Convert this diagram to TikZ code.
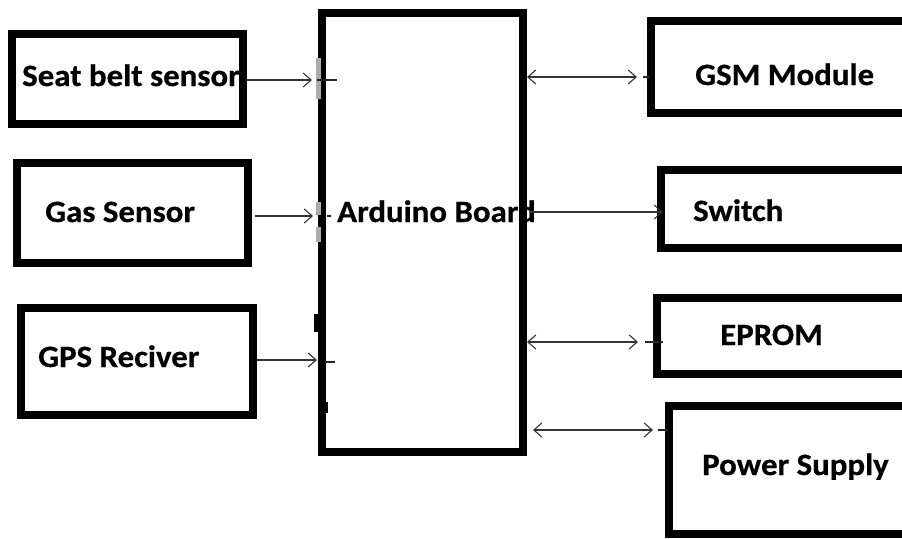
\documentclass[tikz,border=0pt]{standalone}
\usepackage{fontspec}
\setmainfont{Carlito}[FakeStretch=1.06,BoldFeatures={FakeStretch=1.06,FakeBold=0.6}]
\usetikzlibrary{arrows.meta}
\begin{document}
\begin{tikzpicture}[x=1pt,y=-1pt,
  blk/.style={draw=black,line width=8pt,inner sep=0pt,outer sep=4pt},
  lbl/.style={anchor=base west,inner sep=0pt,font=\fontsize{31}{31}\selectfont\bfseries},
  arr/.style={draw=black!80,line width=1.1pt,-{Straight Barb[length=8pt,width=14pt]}},
  darr/.style={draw=black!80,line width=1.1pt,{Straight Barb[length=8pt,width=14pt]}-{Straight Barb[length=8pt,width=14pt]}},
  tk/.style={draw=black!85,line width=1.1pt}]
\useasboundingbox (0,0) rectangle (902,538);
\clip (0,0) rectangle (902,538);
\fill[white] (0,0) rectangle (902,538);
% boxes
\node[blk,minimum width=231pt,minimum height=90pt]  (seat)   at (127.5,79)  {};
\node[blk,minimum width=231pt,minimum height=100pt] (gas)    at (132.5,213) {};
\node[blk,minimum width=232pt,minimum height=107pt] (gps)    at (137,361.5) {};
\node[blk,minimum width=201pt,minimum height=439pt] (ard)    at (422.5,232.5) {};
\node[blk,minimum width=255pt,minimum height=92pt]  (gsm)    at (778.5,67)  {};
\node[blk,minimum width=245pt,minimum height=78pt]  (switch) at (783.5,209) {};
\node[blk,minimum width=249pt,minimum height=76pt]  (eprom)  at (781.5,336) {};
\node[blk,minimum width=237pt,minimum height=128pt] (power)  at (787.5,470) {};
% labels
\node[lbl] (seatT)   at (22,86)   {Seat belt sensor};
\node[lbl] (gasT)    at (45,222)  {Gas Sensor};
\node[lbl] (gpsT)    at (38,367)  {GPS Reciver};
\node[lbl] (ardT)    at (337,222) {Arduino Board};
\node[lbl] (gsmT)    at (695,85)  {GSM Module};
\node[lbl] (switchT) at (693,221) {Switch};
\node[lbl] (epromT)  at (720,345) {EPROM};
\node[lbl] (powerT)  at (702,475) {Power Supply};
% marks on the Arduino left edge
\fill[gray!65] (316,58) rectangle (321,99);
\fill[gray!65] (316,202) rectangle (321,215);
\fill[gray!65] (316,227) rectangle (321,242);
\fill[black] (314,314) rectangle (319,332);
\fill[black] (323,402) rectangle (328,413);
% inputs
\draw[arr,shorten >=6pt] (seat.east |- 0,80) -- (ard.west |- 0,80);
\draw[tk] (ard.west |- 0,80) ++(-1,0) -- ++(20,0);
\draw[arr,shorten >=5pt,shorten <=3pt] (gas.east |- 0,216) -- (ard.west |- 0,216);
\draw[tk] (ard.west |- 0,216) ++(9,0) -- ++(4,0);
\draw[arr,shorten >=1pt] (gps.east |- 0,360) -- (ard.west |- 0,360);
\draw[tk] (ard.west |- 0,362) ++(7,0) -- ++(10,0);
% outputs
\draw[darr,shorten >=10pt] (ard.east |- 0,77) -- (gsm.west |- 0,77);
\draw[tk] (gsm.west |- 0,77) ++(-4,0) -- ++(6,0);
\draw[arr,shorten >=-6pt,shorten <=3pt] (ard.east |- 0,212) -- (switch.west |- 0,212);
\draw[darr,shorten >=15pt] (ard.east |- 0,342) -- (eprom.west |- 0,342);
\draw[tk] (eprom.west |- 0,342) ++(-8,0) -- ++(18,0);
\draw[darr,shorten >=12pt,shorten <=6pt] (ard.east |- 0,430) -- (power.west |- 0,430);
\draw[tk] (power.west |- 0,430) ++(-7,0) -- ++(10,0);
\end{tikzpicture}
\end{document}
